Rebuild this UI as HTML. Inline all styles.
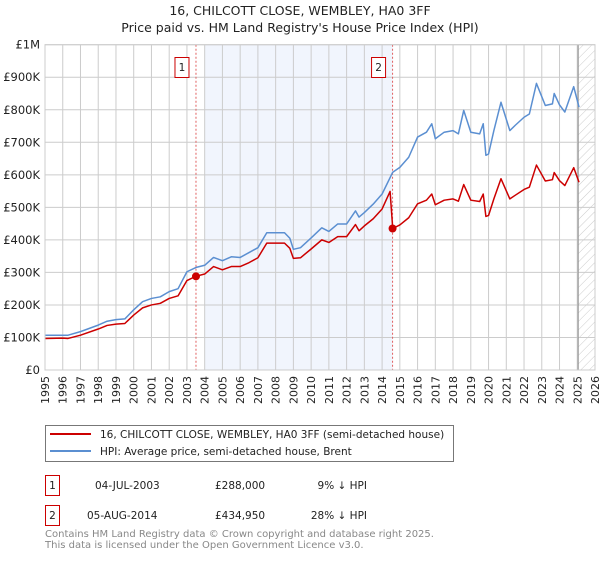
<!DOCTYPE html>
<html><head><meta charset="utf-8"><style>
body{margin:0;background:#fff;font-family:"DejaVu Sans","Liberation Sans",sans-serif;}
svg text{font-family:"DejaVu Sans","Liberation Sans",sans-serif;}
</style></head><body>
<svg id="chart" width="600" height="560" xmlns="http://www.w3.org/2000/svg">
<text x="300" y="15" text-anchor="middle" font-size="12.5" fill="#222">16, CHILCOTT CLOSE, WEMBLEY, HA0 3FF</text>
<text x="300" y="32" text-anchor="middle" font-size="12.5" fill="#222">Price paid vs. HM Land Registry's House Price Index (HPI)</text>
<g id="plot"></g>
<g>
<rect x="45.5" y="425.5" width="408" height="36" fill="#fff" stroke="#777"/>
<line x1="50" y1="434" x2="91" y2="434" stroke="#cc0000" stroke-width="2"/>
<text x="100" y="438" font-size="10.5" fill="#222">16, CHILCOTT CLOSE, WEMBLEY, HA0 3FF (semi-detached house)</text>
<line x1="50" y1="451" x2="91" y2="451" stroke="#5b8fd1" stroke-width="2"/>
<text x="100" y="455" font-size="10.5" fill="#222">HPI: Average price, semi-detached house, Brent</text>
</g>
<g font-size="10.5" fill="#222">
<rect x="45.5" y="475.5" width="14" height="20" fill="#fff" stroke="#cc0000"/>
<text x="52.5" y="489" text-anchor="middle">1</text>
<text x="95" y="489">04-JUL-2003</text>
<text x="215" y="489">£288,000</text>
<text x="367" y="489" text-anchor="end">9% ↓ HPI</text>
<rect x="45.5" y="505.5" width="14" height="20" fill="#fff" stroke="#cc0000"/>
<text x="52.5" y="519" text-anchor="middle">2</text>
<text x="87" y="519">05-AUG-2014</text>
<text x="215" y="519">£434,950</text>
<text x="367" y="519" text-anchor="end">28% ↓ HPI</text>
</g>
<text x="45" y="537" font-size="10" fill="#888">Contains HM Land Registry data © Crown copyright and database right 2025.</text>
<text x="45" y="548" font-size="10" fill="#888">This data is licensed under the Open Government Licence v3.0.</text>
</svg>
<script>
const hpiYears=[1995,1996,1996.3,1997,1998,1998.5,1999,1999.5,2000,2000.5,2001,2001.5,2002,2002.5,2003,2003.5,2004,2004.5,2005,2005.5,2006,2006.5,2007,2007.5,2008,2008.5,2008.8,2009,2009.4,2010,2010.6,2011,2011.5,2012,2012.5,2012.7,2013,2013.5,2014,2014.6,2015,2015.5,2016,2016.5,2016.8,2017,2017.5,2018,2018.3,2018.6,2019,2019.5,2019.7,2019.85,2020,2020.3,2020.7,2021.2,2021.5,2022,2022.3,2022.7,2023.2,2023.6,2023.7,2024,2024.3,2024.8,2025.1];
const hpiValues=[107000,107000,107000,118000,138000,150000,155000,157000,185000,210000,220000,225000,241000,250000,302000,315000,322000,346000,336000,348000,346000,361000,376000,422000,422000,422000,405000,371000,376000,406000,437000,426000,449000,449000,489000,470000,484000,510000,541000,608000,623000,654000,716000,731000,757000,711000,731000,736000,726000,798000,731000,726000,757000,660000,664000,736000,823000,736000,752000,777000,787000,881000,813000,818000,850000,815000,793000,871000,808000];
const priceYears=[1995,1996,1996.3,1997,1998,1998.5,1999,1999.5,2000,2000.5,2001,2001.5,2002,2002.5,2003,2003.5,2004,2004.5,2005,2005.5,2006,2006.5,2007,2007.5,2008,2008.5,2008.8,2009,2009.4,2010,2010.6,2011,2011.5,2012,2012.5,2012.7,2013,2013.5,2014,2014.45,2014.6,2015,2015.5,2016,2016.5,2016.8,2017,2017.5,2018,2018.3,2018.6,2019,2019.5,2019.7,2019.85,2020,2020.3,2020.7,2021.2,2021.5,2022,2022.3,2022.7,2023.2,2023.6,2023.7,2024,2024.3,2024.8,2025.1];
const priceValues=[97000,98000,97000,107000,126000,137000,141000,143000,169000,191000,200000,205000,220000,228000,275000,288000,295000,318000,308000,318000,318000,330000,345000,390000,390000,390000,374000,343000,345000,372000,400000,392000,410000,410000,447000,428000,443000,465000,495000,549000,434950,446000,468000,511000,522000,541000,508000,522000,526000,519000,570000,522000,518000,541000,472000,475000,526000,588000,526000,537000,555000,562000,630000,581000,585000,607000,582000,567000,622000,577000];
const sales=[{year:2003.51,value:288000,label:"1"},{year:2014.59,value:434950,label:"2"}];
const yTicks=[0,100000,200000,300000,400000,500000,600000,700000,800000,900000,1000000];
const yTickLabels=["£0","£100K","£200K","£300K","£400K","£500K","£600K","£700K","£800K","£900K","£1M"];
const xTicks=[1995,1996,1997,1998,1999,2000,2001,2002,2003,2004,2005,2006,2007,2008,2009,2010,2011,2012,2013,2014,2015,2016,2017,2018,2019,2020,2021,2022,2023,2024,2025,2026];

const L=45,R=595,T=44.7,B=370,X0=1995,X1=2026,Y1=1000000;
const xs=y=>L+(y-X0)/(X1-X0)*(R-L);
const ys=v=>B-v/Y1*(B-T);
const NS="http://www.w3.org/2000/svg";
const g=document.getElementById('plot');
function mk(tag,attrs){const e=document.createElementNS(NS,tag);for(const k in attrs)e.setAttribute(k,attrs[k]);g.appendChild(e);return e;}

let shade=mk('rect',{x:xs(2004),y:T,width:xs(sales[1].year)-xs(2004),height:B-T,fill:'#eef3fc',opacity:0.8});


const defs=document.createElementNS(NS,'defs');
defs.innerHTML='<pattern id="hatch" width="6" height="6" patternUnits="userSpaceOnUse" patternTransform="rotate(45)"><line x1="0" y1="0" x2="0" y2="6" stroke="#ccc" stroke-width="1"/></pattern>';
g.appendChild(defs);
let hatch=mk('rect',{x:xs(2025.05),y:T,width:R-xs(2025.05),height:B-T,fill:'url(#hatch)'});



xTicks.forEach(t=>{
  let l=mk('line',{x1:xs(t),x2:xs(t),y1:T,y2:B,stroke:'#ccc','stroke-width':1});
  
  
  let tx=mk('text',{x:0,y:0,'font-size':11,fill:'#222','text-anchor':'end',transform:`translate(${xs(t)+4},${B+6}) rotate(-90)`});
  tx.textContent=t;
  
  
});
yTicks.forEach((t,i)=>{
  let l=mk('line',{x1:L,x2:R,y1:ys(t),y2:ys(t),stroke:'#ccc','stroke-width':1});
  
  
  let tx=mk('text',{x:L-5,y:ys(t)+4,'font-size':11.5,fill:'#222','text-anchor':'end'});
  tx.textContent=yTickLabels[i];
  
  
});
let nowLine=mk('line',{x1:xs(2025.05),x2:xs(2025.05),y1:T,y2:B,stroke:'#999','stroke-width':1.2});



sales.forEach(s=>{
  let d=mk('line',{x1:xs(s.year),x2:xs(s.year),y1:T,y2:B,stroke:'#e06060','stroke-width':1,'stroke-dasharray':'2,2'});
  
  
  let b=mk('rect',{x:xs(s.year)-21,y:57.5,width:14,height:20,fill:'#fff',stroke:'#cc0000'});
  
  
  let t=mk('text',{x:xs(s.year)-14,y:71,'font-size':10.5,fill:'#222','text-anchor':'middle'});
  t.textContent=s.label;
  
  
});

let hp=mk('polyline',{points:hpiYears.map((y,i)=>xs(y)+','+ys(hpiValues[i])).join(' '),fill:'none',stroke:'#5b8fd1','stroke-width':1.5,'stroke-linejoin':'round'});


let pp=mk('polyline',{points:priceYears.map((y,i)=>xs(y)+','+ys(priceValues[i])).join(' '),fill:'none',stroke:'#cc0000','stroke-width':1.5,'stroke-linejoin':'round'});


sales.forEach(s=>{
  let c=mk('circle',{cx:xs(s.year),cy:ys(s.value),r:4,fill:'#cc0000'});
  
  
});
let ax=mk('rect',{x:L,y:T,width:R-L,height:B-T,fill:'none',stroke:'#ccc'});


</script>
</body></html>
